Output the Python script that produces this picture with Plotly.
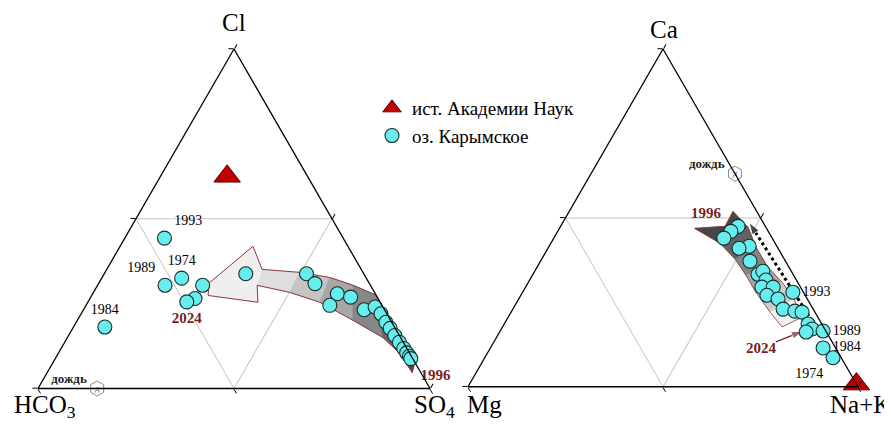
import plotly.graph_objects as go

# ------------------------------------------------------------------
# DATA (equivalent-% compositions)
# Left diagram (anions):  a = Cl,  b = HCO3, c = SO4
# Right diagram (cations): a = Ca, b = Mg,   c = Na+K
# ------------------------------------------------------------------
source_name = "ист. Академии Наук"
lake_name = "оз. Карымское"
rain_name = "дождь"

# spring of the Academy of Sciences
source_cl = [62.5]
source_hco3 = [20.5]
source_so4 = [17.0]
source_ca = [0.8]
source_mg = [0.0]
source_nak = [99.2]

# Karymskoye lake, anions
lake_cl = [44.3, 32.5, 30.4, 30.4, 26.5, 25.5, 18.1, 33.8, 33.8, 30.9, 27.9, 26.9,
           24.5, 23.2, 24.0, 22.0, 19.5, 17.7, 15.6, 13.6, 11.8, 10.5, 9.5, 8.8]
lake_hco3 = [45.6, 47.1, 52.4, 42.8, 46.7, 49.3, 73.9, 30.1, 14.6, 13.9, 9.7, 6.8,
             13.3, 5.2, 2.0, 1.5, 1.5, 1.3, 1.2, 1.0, 0.8, 0.7, 0.5, 0.5]
lake_so4 = [10.1, 20.4, 17.2, 26.8, 26.8, 25.2, 8.0, 36.1, 51.6, 55.2, 62.4, 66.3,
            62.2, 71.6, 74.0, 76.5, 79.0, 81.0, 83.2, 85.4, 87.4, 88.8, 90.0, 90.7]
lake_anion_years = ["1993", "1974", "1989", "", "", "2024", "1984", "", "", "", "", "",
                    "", "", "", "", "", "", "", "", "", "", "", "1996"]

# Karymskoye lake, cations
lake_ca = [47.5, 46.0, 44.0, 41.6, 41.0, 37.2, 33.3, 34.2, 31.6, 29.5, 29.5, 27.1,
           26.0, 23.0, 22.4, 22.1, 18.6, 17.1, 16.2, 28.0, 16.5, 11.5, 8.6]
lake_mg = [7.0, 9.6, 12.4, 7.1, 10.0, 9.1, 9.0, 7.3, 7.8, 9.9, 7.0, 9.8,
           7.5, 7.7, 5.0, 3.3, 3.5, 3.2, 5.2, 2.7, 0.7, 3.2, 2.1]
lake_nak = [45.5, 44.4, 43.6, 51.3, 49.0, 53.7, 57.7, 58.5, 60.6, 60.6, 63.5, 63.1,
            66.5, 69.3, 72.6, 74.6, 77.9, 79.7, 78.6, 69.3, 82.8, 85.3, 89.3]
lake_cation_years = ["", "1996", "", "", "", "", "", "", "", "", "", "",
                     "", "", "", "", "", "", "", "1993", "1989", "1984", "1974"]

# rain water
rain_cl, rain_hco3, rain_so4 = [0.0], [84.9], [15.1]
rain_ca, rain_mg, rain_nak = [63.1], [0.0], [36.9]

# evolution band, left diagram (Cl, HCO3, SO4): head near 2024, tail near 1996
anion_band_upper = [(35.1, 25.3, 39.6), (34.2, 16.1, 49.7), (32.7, 9.2, 58.1), (30.4, 4.4, 65.2),
                    (27.4, -0.2, 72.8), (20.9, -3.6, 82.7), (10.9, -6.7, 95.8)]
anion_band_lower = [(30.4, 28.9, 40.7), (28.3, 21.6, 50.1), (25.4, 15.4, 59.2), (20.1, 9.6, 70.3),
                    (15.0, 4.5, 80.5), (10.3, 2.5, 87.2), (4.7, 2.2, 93.1)]
anion_band_notch = (11.2, -2.5, 91.3)
anion_band_head = [(31.0, 40.9, 28.1), (41.9, 24.2, 33.9), (25.4, 31.2, 43.4), (27.4, 42.9, 29.7)]

# evolution band, right diagram (Ca, Mg, Na+K): tail near 1996, head near 2024
cation_band_right = [(51.9, 6.1, 42.0), (47.2, 4.6, 48.2), (41.3, 5.5, 53.2), (35.4, 5.4, 59.2),
                     (31.0, 4.0, 65.0), (26.0, 3.4, 70.6), (20.6, 4.1, 75.3)]
cation_band_left = [(46.9, 18.4, 34.7), (42.5, 14.1, 43.4), (37.8, 12.6, 49.6), (33.0, 12.2, 54.8),
                    (28.0, 12.2, 59.8), (22.1, 11.5, 66.4), (17.7, 10.6, 71.7)]
cation_band_notch = (47.5, 10.3, 42.2)

# trend arrows, right diagram (Ca, Mg, Na+K)
trend_ca, trend_mg, trend_nak = [19.5, 48.7], [2.0, 3.6], [78.5, 47.7]
arrow2024_ca, arrow2024_mg, arrow2024_nak = [13.3, 16.5], [14.4, 5.9], [72.3, 77.6]
arrow2024_text = ["2024", ""]

# ------------------------------------------------------------------
SERIF = "Liberation Serif"
DARKRED = "#7a1d1d"
CYAN = "#66eded"
OUTLINE = "#8c3b3b"

fig = go.Figure()


def tern(sub, pts_or_abc, **kw):
    a, b, c = pts_or_abc
    return go.Scatterternary(a=a, b=b, c=c, subplot=sub, cliponaxis=False,
                             hoverinfo="skip", showlegend=kw.pop("showlegend", False), **kw)


def split(pts):
    return [p[0] for p in pts], [p[1] for p in pts], [p[2] for p in pts]


def gray(v):
    v = int(round(v))
    return f"rgb({v},{v},{v})"


def add_band(sub, upper, lower, notch, notch_at_end, g_start, g_end):
    n = len(upper)
    for i in range(n - 1):
        poly = [upper[i], upper[i + 1], lower[i + 1], lower[i]]
        if notch_at_end and i == n - 2:
            poly = [upper[i], upper[i + 1], notch, lower[i + 1], lower[i]]
        if (not notch_at_end) and i == 0:
            poly = [upper[0], upper[1], lower[1], lower[0], notch]
        t = i / (n - 2)
        col = gray(g_start + (g_end - g_start) * t ** 1.1)
        poly = poly + [poly[0]]
        fig.add_trace(tern(sub, split(poly), mode="lines", fill="toself",
                           fillcolor=col, line=dict(color=col, width=0.8)))


# ---- left diagram: band ----
add_band("ternary", anion_band_upper, anion_band_lower, anion_band_notch, True, 222, 70)
head = [anion_band_head[0], anion_band_head[1], anion_band_upper[0], anion_band_lower[0],
        anion_band_head[2], anion_band_head[3], anion_band_head[0]]
fig.add_trace(tern("ternary", split(head), mode="lines", fill="toself",
                   fillcolor="#efefef", line=dict(color="#efefef", width=0.8)))
outline = ([anion_band_head[0], anion_band_head[1]] + anion_band_upper + [anion_band_notch]
           + anion_band_lower[::-1] + [anion_band_head[2], anion_band_head[3], anion_band_head[0]])
fig.add_trace(tern("ternary", split(outline), mode="lines", line=dict(color=OUTLINE, width=1)))

# ---- right diagram: band ----
add_band("ternary2", cation_band_right, cation_band_left, cation_band_notch, False, 70, 240)
outline2 = cation_band_right + cation_band_left[::-1] + [cation_band_notch, cation_band_right[0]]
fig.add_trace(tern("ternary2", split(outline2), mode="lines", line=dict(color=OUTLINE, width=0.8)))

# ---- right diagram: dotted trend arrow ----
fig.add_trace(tern("ternary2", (trend_ca, trend_mg, trend_nak), mode="lines+markers",
                   line=dict(color="black", width=3, dash="dot"),
                   marker=dict(symbol="arrow", size=[0, 13], angleref="previous", color="black")))
# ---- right diagram: 2024 arrow ----
fig.add_trace(tern("ternary2", (arrow2024_ca, arrow2024_mg, arrow2024_nak), mode="lines+markers+text",
                   line=dict(color=DARKRED, width=1.3),
                   marker=dict(symbol="arrow", size=[0, 12], angleref="previous", color=DARKRED),
                   text=[f"<b>{t}</b>" if t else "" for t in arrow2024_text],
                   textposition="bottom left",
                   textfont=dict(family=SERIF, size=15, color=DARKRED)))

# ---- rain ----
for sub, abc in (("ternary", (rain_cl, rain_hco3, rain_so4)), ("ternary2", (rain_ca, rain_mg, rain_nak))):
    fig.add_trace(tern(sub, abc, mode="markers+text",
                       marker=dict(symbol="hexagon-open", size=15, color="#8a8a8a", line=dict(width=1)),
                       text=[f"<b>{rain_name}</b><br>&nbsp;"], textposition="middle left",
                       textfont=dict(family=SERIF, size=13, color="#222")))
    fig.add_trace(tern(sub, abc, mode="text", text=["д"], textposition="middle center",
                       textfont=dict(family=SERIF, size=9, color="#555")))

# ---- lake points ----
anion_pos = {"1993": "top right", "1974": "top center", "1989": "top left", "1984": "top center",
             "2024": "bottom center", "1996": "bottom right"}
cation_pos = {"1996": "top left", "1993": "middle right", "1989": "middle right",
              "1984": "middle right", "1974": "bottom left"}
highlight = {"1996", "2024"}


def label_props(years, pos_map):
    text = [f"<b>{y}</b>" if y in highlight else y for y in years]
    pos = [pos_map.get(y, "middle center") for y in years]
    col = [DARKRED if y in highlight else "black" for y in years]
    size = [15 if y in highlight else 14 for y in years]
    return text, pos, col, size


lake_marker = dict(symbol="circle", size=14, color=CYAN, line=dict(color="#1b2b2b", width=1.1))
t, p, c, s = label_props(lake_anion_years, anion_pos)
fig.add_trace(tern("ternary", (lake_cl, lake_hco3, lake_so4), mode="markers+text", name=lake_name,
                   legendgroup="lake", legendrank=2, showlegend=True, marker=lake_marker,
                   text=t, textposition=p, textfont=dict(family=SERIF, size=s, color=c)))
t, p, c, s = label_props(lake_cation_years, cation_pos)
fig.add_trace(tern("ternary2", (lake_ca, lake_mg, lake_nak), mode="markers+text", name=lake_name,
                   legendgroup="lake", marker=lake_marker,
                   text=t, textposition=p, textfont=dict(family=SERIF, size=s, color=c)))

# ---- spring ----
src_marker = dict(symbol="triangle-up", size=23, color="#c00000", line=dict(color="#5a0000", width=1))
fig.add_trace(tern("ternary", (source_cl, source_hco3, source_so4), mode="markers", name=source_name,
                   legendgroup="src", legendrank=1, showlegend=True, marker=src_marker))
fig.add_trace(tern("ternary2", (source_ca, source_mg, source_nak), mode="markers", name=source_name,
                   legendgroup="src", marker=src_marker))

# ------------------------------------------------------------------
axis = dict(title=dict(text=""), showticklabels=False, ticks="outside", ticklen=5, tickwidth=1.2,
            tickcolor="black", tick0=0, dtick=50, showgrid=True, gridcolor="#c4c4c4",
            gridwidth=0.7, showline=True, linecolor="black", linewidth=1.3, min=0)

PAGE = 8                      # browser body margin
W, H = 892 - PAGE, 434 - PAGE


def px(x):
    return (x - PAGE) / W


def py(y):
    return 1 - (y - PAGE) / H


def dom(x0, x1, yc, hh=360):
    return dict(x=[px(x0), px(x1)], y=[py(yc + hh / 2), py(yc - hh / 2)])


corner_labels = [("Cl", 234, 22), ("HCO<sub>3</sub>", 45, 406), ("SO<sub>4</sub>", 434, 406),
                 ("Ca", 664, 29), ("Mg", 484, 404), ("Na+K", 860, 404)]

fig.update_layout(
    width=W, height=H, margin=dict(l=0, r=0, t=0, b=0),
    paper_bgcolor="white", plot_bgcolor="white",
    font=dict(family=SERIF, color="black"),
    ternary=dict(sum=100, domain=dom(38, 430, 218.75), bgcolor="white",
                 aaxis=axis, baxis=axis, caxis=axis),
    ternary2=dict(sum=100, domain=dom(468, 858, 217.9), bgcolor="white",
                  aaxis=axis, baxis=axis, caxis=axis),
    showlegend=True,
    legend=dict(x=px(372), y=py(89), xanchor="left", yanchor="top", itemwidth=30,
                bgcolor="rgba(0,0,0,0)", font=dict(family=SERIF, size=19, color="black"),
                traceorder="normal"),
    annotations=[dict(text=txt, x=px(x), y=py(y), xref="paper", yref="paper",
                      xanchor="center", yanchor="middle", showarrow=False,
                      font=dict(family=SERIF, size=25, color="black"))
                 for txt, x, y in corner_labels],
)

fig.write_html("out.html")
